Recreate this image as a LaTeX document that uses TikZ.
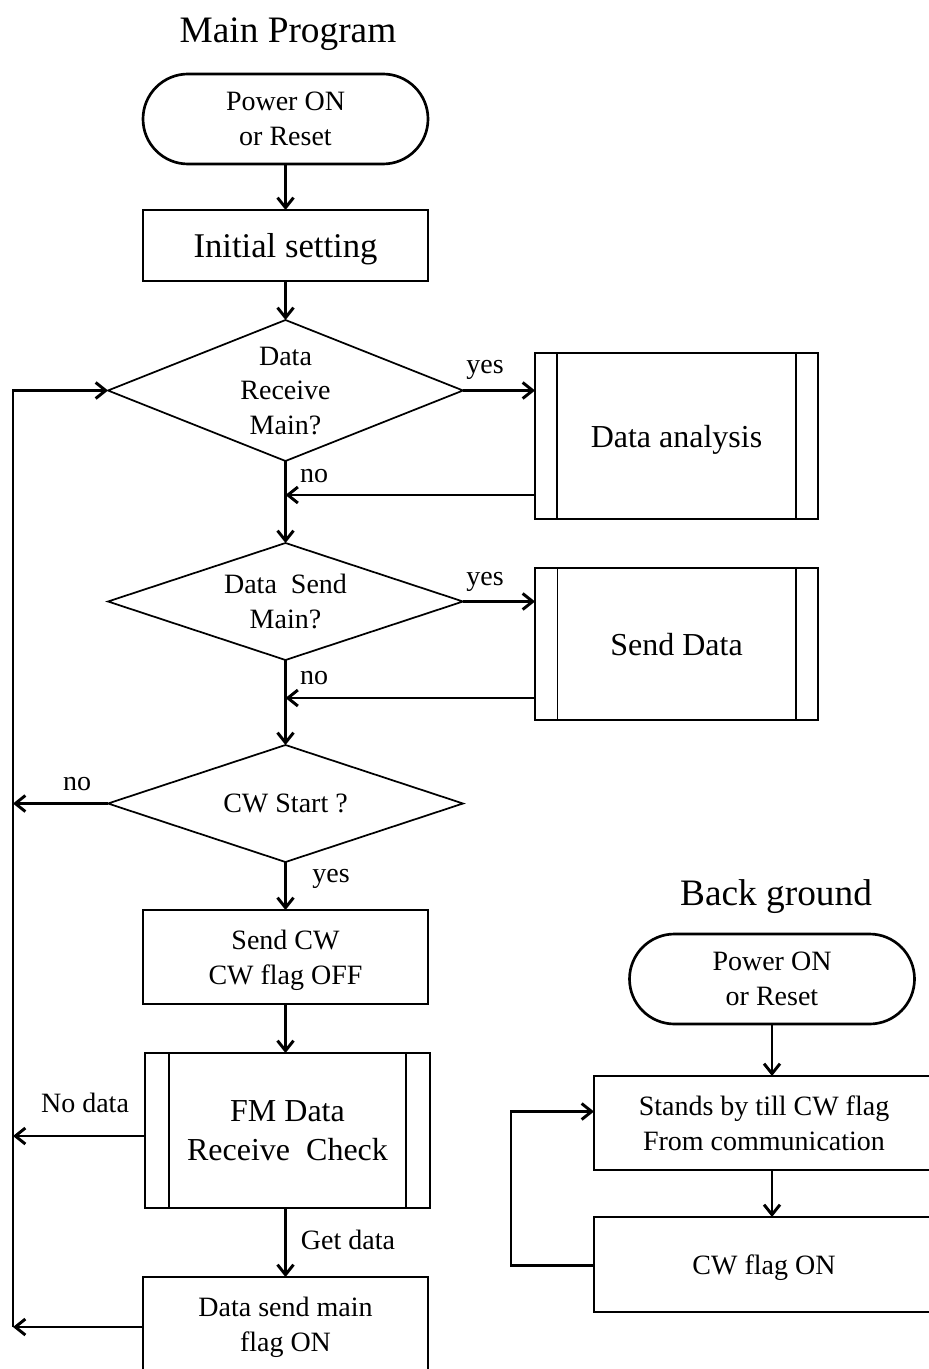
\documentclass[tikz,border=0pt]{standalone}
\usepackage{fontspec}
\setmainfont{Liberation Serif}
\usetikzlibrary{shapes.geometric,arrows.meta}
\begin{document}
\begin{tikzpicture}[x=0.75pt,y=-0.75pt,
  txt/.style={font=\fontsize{21}{26}\selectfont, align=center},
  big/.style={font=\fontsize{24}{29}\selectfont, align=center},
  ttl/.style={font=\fontsize{28}{34}\selectfont, inner sep=0pt},
  box/.style={draw, line width=1.2pt, rectangle, inner sep=0pt, outer sep=0pt, text depth=0pt},
  term/.style={draw, line width=2pt, rectangle, rounded corners=33.75pt, minimum width=213.75pt, minimum height=67.5pt, inner sep=0pt, outer sep=0pt, text depth=0pt, txt},
  dia/.style={draw, diamond, line width=1.3pt, inner sep=0pt, outer sep=0pt},
  dtxt/.style={txt, text depth=0pt, inner sep=0pt},
  arr/.style={line width=2.2pt, -{Straight Barb[length=7.5pt,width=12pt]}},
  sub/.style={line width=1.2pt},
  lbl/.style={txt, inner sep=0pt}]
\useasboundingbox (0,0) rectangle (928,1369);
% ---------- Main program ----------
\node[ttl] (t1) at (288,34) {Main Program};
\node[term] (s1) at (285.5,119) {Power ON\\or Reset};
\node[box, minimum width=213.75pt, minimum height=53.25pt, font=\fontsize{26}{31}\selectfont] (init) at (285.5,245.5) {Initial setting};
\node[dia, minimum width=266.25pt, minimum height=105.75pt, label={[dtxt]center:{Data\\Receive\\Main?}}] (d1) at (285.5,390.5) {};
\node[box, minimum width=212.25pt, minimum height=124.5pt, big] (da) at (676.5,436) {Data analysis};
\draw[sub] ([xshift=16.5pt]da.north west) -- ([xshift=16.5pt]da.south west)
           ([xshift=-16.5pt]da.north east) -- ([xshift=-16.5pt]da.south east);
\node[dia, minimum width=266.25pt, minimum height=87.75pt, label={[dtxt]center:{Data\ \ Send\\Main?}}] (d2) at (285.5,601.5) {};
\node[box, minimum width=212.25pt, minimum height=114pt, big] (sd) at (676.5,644) {Send Data};
\draw[sub] ([xshift=17pt]sd.north west) -- ([xshift=17pt]sd.south west)
           ([xshift=-16.5pt]sd.north east) -- ([xshift=-16.5pt]sd.south east);
\node[dia, minimum width=266.25pt, minimum height=87.75pt, label={[dtxt]center:{CW Start ?}}] (d3) at (285.5,803.5) {};
\node[box, minimum width=213.75pt, minimum height=70.5pt, txt] (scw) at (285.5,957) {Send CW\\CW flag OFF};
\node[box, minimum width=213.75pt, minimum height=116.25pt, big] (fm) at (287.5,1130.5) {FM Data\\Receive\ \ Check};
\draw[sub] ([xshift=18pt]fm.north west) -- ([xshift=18pt]fm.south west)
           ([xshift=-18pt]fm.north east) -- ([xshift=-18pt]fm.south east);
\node[box, minimum width=213.75pt, minimum height=70.5pt, txt] (dsm) at (285.5,1324) {Data send main\\flag ON};
% coordinates
\coordinate (r1) at (285.5,495);
\coordinate (r2) at (285.5,698);
\coordinate (L1) at (13,390.5);
\coordinate (L3) at (13,803.5);
\coordinate (L4) at (13,1136);
\coordinate (L5) at (13,1327);
% connectors
\draw[arr] (s1.south) -- (init.north);
\draw[arr] (init.south) -- (d1.north);
\draw[arr] (d1.east) -- (da.west |- d1.east);
\node[lbl] (y1) at (485,370) {yes};
\draw[arr] (d1.south) -- (d2.north);
\draw[arr] (da.west |- r1) -- (r1);
\node[lbl] (n1) at (314,476) {no};
\draw[arr] (d2.east) -- (sd.west |- d2.east);
\node[lbl] (y2) at (485,582) {yes};
\draw[arr] (d2.south) -- (d3.north);
\draw[arr] (sd.west |- r2) -- (r2);
\node[lbl] (n2) at (314,678) {no};
\draw[arr] (d3.west) -- (L3);
\node[lbl] (n3) at (77,784) {no};
\draw[arr] (d3.south) -- (scw.north);
\node[lbl] (y3) at (331,879) {yes};
\draw[arr] (scw.south) -- (scw.south |- fm.north);
\draw[arr] (fm.west |- L4) -- (L4);
\node[lbl] (nd) at (85,1103) {No data};
\draw[arr] (dsm.north |- fm.south) -- (dsm.north);
\node[lbl] (gd) at (348,1240) {Get data};
\draw[arr] (dsm.west |- L5) -- (L5);
\draw[arr] (L5) -- (L1) -- (d1.west);
% ---------- Back ground ----------
\node[ttl] (t2) at (776,897) {Back ground};
\node[term] (s2) at (772,979) {Power ON\\or Reset};
\node[box, minimum width=255pt, minimum height=70.5pt, txt] (sb) at (764,1123) {Stands by till CW flag\\From communication};
\node[box, minimum width=255pt, minimum height=71.25pt, txt] (cf) at (764,1264.5) {CW flag ON};
\coordinate (B1) at (511,1265.5);
\coordinate (B2) at (511,1111.5);
\draw[arr] (s2.south) -- (s2.south |- sb.north);
\draw[arr] (s2.south |- sb.south) -- (s2.south |- cf.north);
\draw[arr] (cf.west |- B1) -- (B1) -- (B2) -- (sb.west |- B2);
\end{tikzpicture}
\end{document}
